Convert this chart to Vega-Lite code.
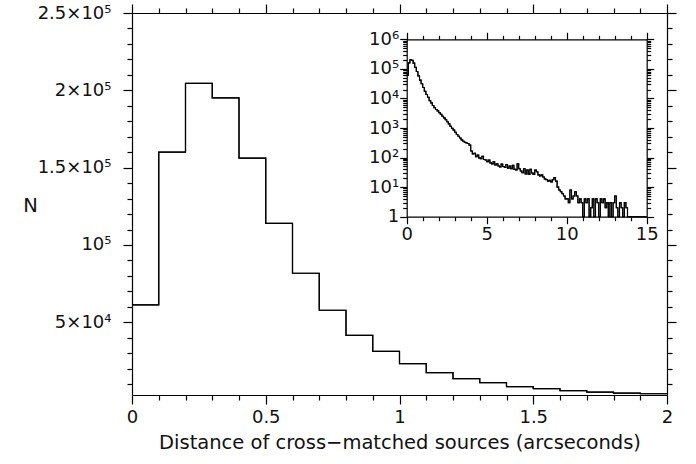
{
  "$schema": "https://vega.github.io/schema/vega-lite/v6.json",
  "autosize": "none",
  "width": 535,
  "height": 382,
  "padding": {"left": 132, "top": 13, "right": 29, "bottom": 69},
  "background": "white",
  "config": {
    "view": {"stroke": null},
    "axis": {
      "grid": false,
      "domainColor": "black",
      "domainWidth": 1.2,
      "tickColor": "black",
      "tickWidth": 1.2,
      "labelColor": "#111111",
      "labelFont": "DejaVu Sans",
      "labelFontSize": 18,
      "labelFontWeight": "normal",
      "titleColor": "#111111",
      "titleFont": "DejaVu Sans",
      "titleFontSize": 19.5,
      "titleFontWeight": "normal",
      "labelOverlap": false,
      "labelFlush": false,
      "labelBound": false
    }
  },
  "datasets": {
    "main": [
      {"x": 0.0, "n": 61200}, {"x": 0.1, "n": 160000}, {"x": 0.2, "n": 204500}, {"x": 0.3, "n": 195100},
      {"x": 0.4, "n": 156100}, {"x": 0.5, "n": 114000}, {"x": 0.6, "n": 81700}, {"x": 0.7, "n": 57800},
      {"x": 0.8, "n": 41600}, {"x": 0.9, "n": 31200}, {"x": 1.0, "n": 23300}, {"x": 1.1, "n": 17500},
      {"x": 1.2, "n": 13600}, {"x": 1.3, "n": 11000}, {"x": 1.4, "n": 8400}, {"x": 1.5, "n": 7100},
      {"x": 1.6, "n": 5800}, {"x": 1.7, "n": 4900}, {"x": 1.8, "n": 4200}, {"x": 1.9, "n": 3800},
      {"x": 2.0, "n": 3800}
    ],
    "inset": [
      {"x": 0.0, "n": 61200}, {"x": 0.1, "n": 160000}, {"x": 0.2, "n": 204500}, {"x": 0.3, "n": 195100},
      {"x": 0.4, "n": 156100}, {"x": 0.5, "n": 114000}, {"x": 0.6, "n": 81700}, {"x": 0.7, "n": 57800},
      {"x": 0.8, "n": 41600}, {"x": 0.9, "n": 31200}, {"x": 1.0, "n": 23300}, {"x": 1.1, "n": 17500},
      {"x": 1.2, "n": 13600}, {"x": 1.3, "n": 11000}, {"x": 1.4, "n": 8400}, {"x": 1.5, "n": 7100},
      {"x": 1.6, "n": 5800}, {"x": 1.7, "n": 4900}, {"x": 1.8, "n": 4200}, {"x": 1.9, "n": 3800},
      {"x": 2.0, "n": 3300}, {"x": 2.1, "n": 2900}, {"x": 2.2, "n": 2500}, {"x": 2.3, "n": 2200},
      {"x": 2.4, "n": 1900}, {"x": 2.5, "n": 1620}, {"x": 2.6, "n": 1380}, {"x": 2.7, "n": 1150},
      {"x": 2.8, "n": 980}, {"x": 2.9, "n": 850}, {"x": 3.0, "n": 720}, {"x": 3.1, "n": 600},
      {"x": 3.2, "n": 525}, {"x": 3.3, "n": 457}, {"x": 3.4, "n": 398}, {"x": 3.5, "n": 355},
      {"x": 3.6, "n": 330}, {"x": 3.7, "n": 310}, {"x": 3.8, "n": 300}, {"x": 3.9, "n": 263},
      {"x": 4.0, "n": 166}, {"x": 4.1, "n": 132}, {"x": 4.2, "n": 140}, {"x": 4.3, "n": 108},
      {"x": 4.4, "n": 122}, {"x": 4.5, "n": 98}, {"x": 4.6, "n": 92}, {"x": 4.7, "n": 110},
      {"x": 4.8, "n": 86}, {"x": 4.9, "n": 83}, {"x": 5.0, "n": 72}, {"x": 5.1, "n": 82},
      {"x": 5.2, "n": 66}, {"x": 5.3, "n": 61}, {"x": 5.4, "n": 72}, {"x": 5.5, "n": 56},
      {"x": 5.6, "n": 62}, {"x": 5.7, "n": 52}, {"x": 5.8, "n": 48}, {"x": 5.9, "n": 60},
      {"x": 6.0, "n": 50}, {"x": 6.1, "n": 46}, {"x": 6.2, "n": 58}, {"x": 6.3, "n": 44},
      {"x": 6.4, "n": 52}, {"x": 6.5, "n": 42}, {"x": 6.6, "n": 55}, {"x": 6.7, "n": 40},
      {"x": 6.8, "n": 38}, {"x": 6.9, "n": 62}, {"x": 7.0, "n": 42}, {"x": 7.1, "n": 35},
      {"x": 7.2, "n": 31}, {"x": 7.3, "n": 42}, {"x": 7.4, "n": 28}, {"x": 7.5, "n": 38},
      {"x": 7.6, "n": 27}, {"x": 7.7, "n": 40}, {"x": 7.8, "n": 30}, {"x": 7.9, "n": 27},
      {"x": 8.0, "n": 38}, {"x": 8.1, "n": 33}, {"x": 8.2, "n": 26}, {"x": 8.3, "n": 24},
      {"x": 8.4, "n": 26}, {"x": 8.5, "n": 22}, {"x": 8.6, "n": 19}, {"x": 8.7, "n": 18},
      {"x": 8.8, "n": 16}, {"x": 8.9, "n": 17}, {"x": 9.0, "n": 15}, {"x": 9.1, "n": 18},
      {"x": 9.2, "n": 21}, {"x": 9.3, "n": 16}, {"x": 9.4, "n": 10}, {"x": 9.5, "n": 8},
      {"x": 9.6, "n": 7}, {"x": 9.7, "n": 6}, {"x": 9.8, "n": 5}, {"x": 9.9, "n": 4},
      {"x": 10.0, "n": 4}, {"x": 10.1, "n": 3}, {"x": 10.2, "n": 8}, {"x": 10.3, "n": 4},
      {"x": 10.4, "n": 5}, {"x": 10.5, "n": 7}, {"x": 10.6, "n": 5}, {"x": 10.7, "n": 3},
      {"x": 10.8, "n": 4}, {"x": 10.9, "n": 3}, {"x": 11.0, "n": 1}, {"x": 11.1, "n": 4},
      {"x": 11.2, "n": 3}, {"x": 11.3, "n": 4}, {"x": 11.4, "n": 1}, {"x": 11.5, "n": 2},
      {"x": 11.6, "n": 4}, {"x": 11.7, "n": 1}, {"x": 11.8, "n": 4}, {"x": 11.9, "n": 3},
      {"x": 12.0, "n": 1}, {"x": 12.1, "n": 4}, {"x": 12.2, "n": 3}, {"x": 12.3, "n": 4},
      {"x": 12.4, "n": 2}, {"x": 12.5, "n": 3}, {"x": 12.6, "n": 1}, {"x": 12.7, "n": 3},
      {"x": 12.8, "n": 1}, {"x": 12.9, "n": 3}, {"x": 13.0, "n": 5}, {"x": 13.1, "n": 2},
      {"x": 13.2, "n": 1}, {"x": 13.3, "n": 3}, {"x": 13.4, "n": 2}, {"x": 13.5, "n": 1},
      {"x": 13.6, "n": 3}, {"x": 13.7, "n": 2}, {"x": 13.8, "n": 1}, {"x": 13.9, "n": 1},
      {"x": 14.0, "n": 1}, {"x": 14.1, "n": 1}, {"x": 14.2, "n": 1}, {"x": 14.3, "n": 1},
      {"x": 14.4, "n": 1}, {"x": 14.5, "n": 1}, {"x": 14.6, "n": 1}, {"x": 14.7, "n": 1},
      {"x": 14.8, "n": 1}, {"x": 14.9, "n": 1}, {"x": 15.0, "n": 1}
    ]
  },
  "layer": [
    {
      "data": {"name": "main"},
      "mark": {"type": "line", "interpolate": "step-after", "color": "black", "strokeWidth": 1.2},
      "encoding": {
        "x": {
          "field": "x", "type": "quantitative",
          "scale": {"domain": [0, 2], "nice": false, "zero": false},
          "axis": {
            "orient": "bottom",
            "values": [0, 0.1, 0.2, 0.3, 0.4, 0.5, 0.6, 0.7, 0.8, 0.9, 1, 1.1, 1.2, 1.3, 1.4, 1.5, 1.6, 1.7, 1.8, 1.9, 2],
            "labelExpr": "abs(datum.value*2 - round(datum.value*2)) < 1e-6 ? '' + datum.value : ''",
            "tickSize": {"condition": {"test": "abs(datum.value*2 - round(datum.value*2)) < 1e-6", "value": 9}, "value": 5},
            "labelPadding": 4,
            "title": "Distance of cross−matched sources (arcseconds)",
            "titlePadding": 7
          }
        },
        "y": {
          "field": "n", "type": "quantitative",
          "scale": {"domain": [2980, 250000], "nice": false, "zero": false},
          "axis": {
            "orient": "left",
            "values": [10000, 20000, 30000, 40000, 50000, 60000, 70000, 80000, 90000, 100000, 110000, 120000, 130000, 140000, 150000, 160000, 170000, 180000, 190000, 200000, 210000, 220000, 230000, 240000, 250000],
            "labelExpr": "datum.value == 50000 ? '5×10⁴' : datum.value == 100000 ? '10⁵' : datum.value == 150000 ? '1.5×10⁵' : datum.value == 200000 ? '2×10⁵' : datum.value == 250000 ? '2.5×10⁵' : ''",
            "tickSize": {"condition": {"test": "datum.value % 50000 == 0", "value": 9}, "value": 5},
            "labelPadding": 12,
            "title": "N",
            "titleAngle": 0,
            "titleAlign": "center",
            "titleBaseline": "middle",
            "titleX": -102,
            "titleY": 192
          }
        }
      }
    },
    {
      "data": {"name": "main"},
      "mark": {"type": "line", "interpolate": "step-after", "color": "black", "strokeWidth": 1.2},
      "encoding": {
        "x": {
          "field": "x", "type": "quantitative",
          "scale": {"domain": [0, 2], "nice": false, "zero": false},
          "axis": {
            "orient": "top",
            "values": [0, 0.1, 0.2, 0.3, 0.4, 0.5, 0.6, 0.7, 0.8, 0.9, 1, 1.1, 1.2, 1.3, 1.4, 1.5, 1.6, 1.7, 1.8, 1.9, 2],
            "labels": false,
            "tickSize": {"condition": {"test": "abs(datum.value*2 - round(datum.value*2)) < 1e-6", "value": 9}, "value": 5},
            "title": null
          }
        },
        "y": {
          "field": "n", "type": "quantitative",
          "scale": {"domain": [2980, 250000], "nice": false, "zero": false},
          "axis": {
            "orient": "right",
            "values": [10000, 20000, 30000, 40000, 50000, 60000, 70000, 80000, 90000, 100000, 110000, 120000, 130000, 140000, 150000, 160000, 170000, 180000, 190000, 200000, 210000, 220000, 230000, 240000, 250000],
            "labels": false,
            "tickSize": {"condition": {"test": "datum.value % 50000 == 0", "value": 9}, "value": 5},
            "title": null
          }
        }
      }
    },
    {
      "data": {"name": "inset"},
      "mark": {"type": "line", "interpolate": "step-after", "color": "black", "strokeWidth": 1.1},
      "encoding": {
        "x": {
          "field": "x", "type": "quantitative",
          "scale": {"domain": [0, 15], "range": [274.7, 514.7], "nice": false, "zero": false},
          "axis": {
            "orient": "bottom",
            "offset": -178.3,
            "values": [0, 1, 2, 3, 4, 5, 6, 7, 8, 9, 10, 11, 12, 13, 14, 15],
            "labelExpr": "datum.value % 5 == 0 ? '' + datum.value : ''",
            "tickSize": {"condition": {"test": "datum.value % 5 == 0", "value": 7}, "value": 4},
            "labelPadding": 2,
            "title": null
          }
        },
        "y": {
          "field": "n", "type": "quantitative",
          "scale": {"type": "log", "domain": [1, 1000000], "range": [203.7, 26.3], "nice": false, "zero": false},
          "axis": {
            "orient": "left",
            "offset": -274.7,
            "values": [1, 2, 3, 4, 5, 6, 7, 8, 9, 10, 20, 30, 40, 50, 60, 70, 80, 90, 100, 200, 300, 400, 500, 600, 700, 800, 900, 1000, 2000, 3000, 4000, 5000, 6000, 7000, 8000, 9000, 10000, 20000, 30000, 40000, 50000, 60000, 70000, 80000, 90000, 100000, 200000, 300000, 400000, 500000, 600000, 700000, 800000, 900000, 1000000],
            "labelExpr": "datum.value == 1 ? '1' : datum.value == 10 ? '10¹' : datum.value == 100 ? '10²' : datum.value == 1000 ? '10³' : datum.value == 10000 ? '10⁴' : datum.value == 100000 ? '10⁵' : datum.value == 1000000 ? '10⁶' : ''",
            "tickSize": {"condition": {"test": "abs(log(datum.value)/LN10 - round(log(datum.value)/LN10)) < 1e-6", "value": 7}, "value": 4},
            "labelPadding": 1,
            "title": null
          }
        }
      }
    },
    {
      "data": {"name": "inset"},
      "mark": {"type": "line", "interpolate": "step-after", "color": "black", "strokeWidth": 1.1},
      "encoding": {
        "x": {
          "field": "x", "type": "quantitative",
          "scale": {"domain": [0, 15], "range": [274.7, 514.7], "nice": false, "zero": false},
          "axis": {
            "orient": "top",
            "offset": -26.3,
            "values": [0, 1, 2, 3, 4, 5, 6, 7, 8, 9, 10, 11, 12, 13, 14, 15],
            "labels": false,
            "tickSize": {"condition": {"test": "datum.value % 5 == 0", "value": 7}, "value": 4},
            "title": null
          }
        },
        "y": {
          "field": "n", "type": "quantitative",
          "scale": {"type": "log", "domain": [1, 1000000], "range": [203.7, 26.3], "nice": false, "zero": false},
          "axis": {
            "orient": "right",
            "offset": -20.3,
            "values": [1, 2, 3, 4, 5, 6, 7, 8, 9, 10, 20, 30, 40, 50, 60, 70, 80, 90, 100, 200, 300, 400, 500, 600, 700, 800, 900, 1000, 2000, 3000, 4000, 5000, 6000, 7000, 8000, 9000, 10000, 20000, 30000, 40000, 50000, 60000, 70000, 80000, 90000, 100000, 200000, 300000, 400000, 500000, 600000, 700000, 800000, 900000, 1000000],
            "labels": false,
            "tickSize": {"condition": {"test": "abs(log(datum.value)/LN10 - round(log(datum.value)/LN10)) < 1e-6", "value": 7}, "value": 4},
            "title": null
          }
        }
      }
    }
  ],
  "resolve": {"scale": {"x": "independent", "y": "independent"}, "axis": {"x": "independent", "y": "independent"}}
}
